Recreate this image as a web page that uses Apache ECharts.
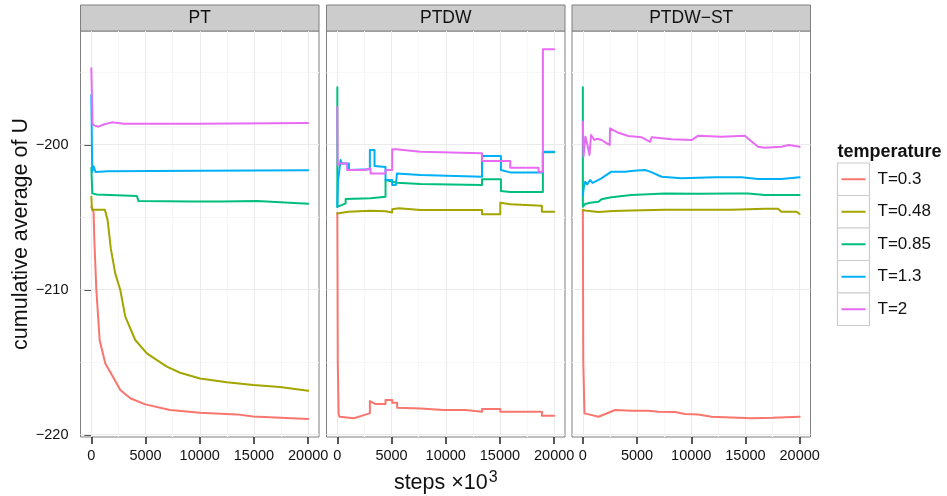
<!DOCTYPE html>
<html>
<head>
<meta charset="utf-8">
<script src="https://cdn.jsdelivr.net/npm/echarts@6/dist/echarts.min.js"></script>
<style>
  html, body { margin: 0; padding: 0; background: #ffffff; }
  #chart { width: 947px; height: 496px; }
</style>
</head>
<body>
<div id="chart"></div>
<script>
// Facets, temperature groups and tick positions
const panelNames = ['PT', 'PTDW', 'PTDW\u2212ST'];
const temperatures = ['T=0.3', 'T=0.48', 'T=0.85', 'T=1.3', 'T=2'];
const xTicks = [0, 5000, 10000, 15000, 20000];
const xMinorTicks = [2500, 7500, 12500, 17500];
const yTicks = [-220, -210, -200];
const yMinorTicks = [-215, -205, -195];

// Cumulative average of U as [step (x10^3), value] pairs
// --- PT ---
const ptT03 = [[0,-204.3],[150,-204.5],[210,-204.7],[276,-206.6],[460,-210.0],[767,-213.5],[1290,-215.1],[1900,-215.9],[2670,-216.93],[3590,-217.5],[4970,-217.92],[7270,-218.31],[10030,-218.5],[13410,-218.61],[14940,-218.75],[20000,-218.93]];
const ptT048 = [[0,-203.6],[60,-204.5],[1250,-204.5],[1500,-205.2],[1800,-207.2],[2210,-208.9],[2670,-210.03],[3130,-211.87],[4050,-213.48],[5120,-214.4],[6960,-215.32],[8190,-215.74],[10030,-216.13],[12490,-216.4],[14940,-216.59],[17390,-216.72],[20000,-216.98]];
const ptT085 = [[0,-201.6],[90,-203.37],[500,-203.45],[4200,-203.55],[4350,-203.9],[9300,-203.93],[9450,-204.0],[12000,-203.93],[15300,-203.9],[15450,-204.0],[20000,-204.08]];
const ptT13 = [[0,-196.6],[80,-201.9],[200,-201.5],[400,-201.9],[1500,-201.85],[10000,-201.8],[20000,-201.78]];
const ptT2 = [[0,-194.74],[100,-198.5],[200,-198.66],[670,-198.77],[1200,-198.6],[1900,-198.47],[3000,-198.57],[10000,-198.57],[20000,-198.52]];

// --- PTDW ---
const ptdwT03 = [[0,-204.7],[40,-215],[120,-218.6],[200,-218.77],[1530,-218.88],[2450,-218.66],[3000,-218.54],[3000,-217.69],[3525,-217.9],[4445,-217.9],[4445,-217.62],[5060,-217.62],[5060,-217.8],[5520,-217.8],[5520,-218.15],[7670,-218.2],[9810,-218.31],[11810,-218.31],[11810,-218.43],[13345,-218.43],[13345,-218.24],[15030,-218.24],[15030,-218.43],[18870,-218.43],[18870,-218.7],[20000,-218.7]];
const ptdwT048 = [[0,-204.75],[150,-204.63],[1000,-204.63],[3065,-204.56],[4445,-204.6],[4600,-204.68],[5060,-204.68],[5060,-204.47],[5670,-204.4],[7670,-204.52],[13345,-204.52],[13345,-204.81],[15030,-204.81],[15030,-204.01],[15950,-204.12],[18870,-204.22],[18870,-204.63],[20000,-204.63]];
const ptdwT085 = [[0,-196.05],[0,-204.3],[150,-204.17],[765,-204.06],[765,-203.76],[3065,-203.71],[4445,-203.6],[4445,-202.45],[5520,-202.63],[7670,-202.72],[13345,-202.79],[13345,-202.4],[15090,-202.4],[15090,-203.21],[15950,-203.28],[18960,-203.28],[18960,-200.54],[20000,-200.54]];
const ptdwT13 = [[0,-204.3],[60,-202.5],[300,-201.07],[400,-201.3],[1070,-201.3],[1070,-201.76],[3000,-201.7],[3000,-200.38],[3430,-200.38],[3430,-201.48],[4445,-201.55],[4445,-202.45],[5060,-202.45],[5060,-202.79],[5400,-202.79],[5500,-201.99],[7670,-202.1],[13345,-202.22],[13345,-200.79],[15090,-200.79],[15090,-201.76],[15950,-201.92],[18960,-201.92],[18960,-200.49],[20000,-200.49]];
const ptdwT2 = [[0,-197.4],[30,-201.41],[300,-201.3],[900,-201.3],[900,-201.76],[2500,-201.76],[2500,-201.65],[3065,-201.65],[3065,-201.99],[4445,-201.99],[4445,-201.76],[5060,-201.76],[5060,-200.33],[5400,-200.33],[5450,-200.2],[5520,-200.4],[7670,-200.5],[13345,-200.6],[13345,-201.14],[15950,-201.14],[15950,-201.6],[18560,-201.6],[18560,-201.87],[18960,-201.87],[18960,-193.43],[20000,-193.43]];

// --- PTDW-ST ---
const ptdwstT03 = [[0,-204.5],[40,-215],[150,-218.54],[830,-218.66],[1440,-218.77],[2360,-218.5],[2970,-218.31],[4510,-218.36],[6040,-218.36],[6960,-218.43],[8500,-218.45],[9420,-218.59],[10640,-218.62],[11870,-218.77],[13710,-218.82],[15550,-218.88],[17500,-218.85],[20000,-218.77]];
const ptdwstT048 = [[0,-204.52],[210,-204.55],[1440,-204.66],[2780,-204.59],[4470,-204.55],[7570,-204.5],[13710,-204.5],[16780,-204.43],[18000,-204.43],[18310,-204.63],[19700,-204.63],[20000,-204.79]];
const ptdwstT085 = [[0,-196.05],[0,-204.29],[210,-204.1],[670,-204.01],[1440,-203.94],[1710,-203.78],[2630,-203.64],[4470,-203.48],[7570,-203.37],[10640,-203.4],[13710,-203.37],[15240,-203.37],[16780,-203.48],[20000,-203.48]];
const ptdwstT13 = [[0,-203.5],[100,-202.9],[210,-202.56],[400,-202.75],[670,-202.45],[900,-202.65],[1130,-202.56],[1710,-202.33],[2630,-201.87],[3890,-201.87],[4700,-201.8],[5730,-201.76],[6200,-201.87],[7270,-202.22],[9110,-202.33],[12180,-202.26],[14630,-202.26],[16160,-202.38],[18310,-202.38],[20000,-202.26]];
const ptdwstT2 = [[0,-198.43],[60,-200.84],[240,-199.46],[460,-200.15],[610,-200.72],[760,-199.34],[1060,-199.69],[1290,-199.6],[1750,-199.69],[2200,-199.92],[2480,-200.03],[2510,-198.88],[3280,-199.19],[4200,-199.41],[5430,-199.5],[6200,-199.81],[6350,-199.5],[8190,-199.64],[10030,-199.69],[10640,-199.39],[12790,-199.46],[14940,-199.39],[15400,-199.69],[16160,-200.15],[16780,-200.22],[18310,-200.15],[19000,-200.03],[20000,-200.15]];

const panelSeries = [
  [ptT03, ptT048, ptT085, ptT13, ptT2],
  [ptdwT03, ptdwT048, ptdwT085, ptdwT13, ptdwT2],
  [ptdwstT03, ptdwstT048, ptdwstT085, ptdwstT13, ptdwstT2]
];

const colors = ['#F8766D', '#A3A500', '#00BF7D', '#00B0F6', '#E76BF3'];
const FONT = '"Liberation Sans", Arial, Helvetica, sans-serif';

// Layout of the three facets
const panelLeft = [80.5, 326.5, 572];
const panelWidth = 238.5;
const panelTop = 31;
const panelHeight = 406;
const stripTop = 5;
const stripHeight = 26;
const X_MIN = -1000, X_MAX = 21000;
const Y_MIN = -220.17, Y_MAX = -192.17;

const grids = [], xAxes = [], yAxes = [], series = [], graphics = [];

panelNames.forEach((name, p) => {
  grids.push({
    left: panelLeft[p], top: panelTop, width: panelWidth, height: panelHeight,
    outerBoundsMode: 'none', containLabel: false,
    show: true, backgroundColor: '#ffffff', borderColor: '#7F7F7F', borderWidth: 1
  });

  const xAxis = {
    gridIndex: p, type: 'value', min: X_MIN, max: X_MAX,
    axisLine: { show: false },
    splitLine: { show: false },
    axisTick: { show: true, customValues: xTicks, length: 7, lineStyle: { color: '#222', width: 1.5 } },
    axisLabel: {
      customValues: xTicks, margin: 11, fontSize: 14.5, color: '#111', fontFamily: FONT,
      formatter: v => String(v)
    }
  };
  if (p === 1) {
    xAxis.name = '{a|steps \u00d710}{b|3}';
    xAxis.nameLocation = 'middle';
    xAxis.nameGap = 33;
    xAxis.nameTextStyle = {
      rich: {
        a: { fontSize: 21.5, color: '#111', fontFamily: FONT, lineHeight: 26 },
        b: { fontSize: 16, color: '#111', fontFamily: FONT, verticalAlign: 'top', lineHeight: 26, padding: [0, 0, 12, 1] }
      }
    };
  }
  xAxes.push(xAxis);

  const yAxis = {
    gridIndex: p, type: 'value', min: Y_MIN, max: Y_MAX,
    axisLine: { show: false },
    splitLine: { show: false },
    axisTick: { show: p === 0, customValues: yTicks, length: 7, lineStyle: { color: '#222', width: 1.5 } },
    axisLabel: {
      show: p === 0, customValues: yTicks, margin: 12, fontSize: 14.5, color: '#111', fontFamily: FONT,
      formatter: v => String(v).replace('-', '\u2212')
    }
  };
  if (p === 0) {
    yAxis.name = 'cumulative average of U';
    yAxis.nameLocation = 'middle';
    yAxis.nameGap = 47;
    yAxis.nameTextStyle = { fontSize: 21.5, color: '#111', fontFamily: FONT };
  }
  yAxes.push(yAxis);

  // background grid: major and minor lines, kept beneath the data lines
  const gridLines = []
    .concat(xMinorTicks.map(v => ({ xAxis: v, lineStyle: { color: '#F7F7F7', width: 1 } })))
    .concat(yMinorTicks.map(v => ({ yAxis: v, lineStyle: { color: '#F7F7F7', width: 1 } })))
    .concat(xTicks.map(v => ({ xAxis: v, lineStyle: { color: '#EBEBEB', width: 1 } })))
    .concat(yTicks.map(v => ({ yAxis: v, lineStyle: { color: '#EBEBEB', width: 1 } })));
  series.push({
    type: 'line', xAxisIndex: p, yAxisIndex: p, data: [], z: 1, silent: true,
    markLine: {
      z: 1,
      silent: true, symbol: ['none', 'none'], animation: false,
      label: { show: false }, emphasis: { disabled: true },
      lineStyle: { type: 'solid' },
      data: gridLines
    }
  });

  panelSeries[p].forEach((values, t) => {
    series.push({
      type: 'line', name: temperatures[t], xAxisIndex: p, yAxisIndex: p,
      data: values, showSymbol: false, symbol: 'none', silent: true, z: 3,
      sampling: null, smooth: false,
      lineStyle: { color: colors[t], width: 2, join: 'round', cap: 'round' },
      itemStyle: { color: colors[t] },
      emphasis: { disabled: true }
    });
  });

  // facet strip
  graphics.push({
    type: 'rect',
    shape: { x: panelLeft[p], y: stripTop, width: panelWidth, height: stripHeight },
    style: { fill: '#CCCCCC', stroke: '#7F7F7F', lineWidth: 1 },
    silent: true
  });
  graphics.push({
    type: 'text',
    x: panelLeft[p] + panelWidth / 2, y: stripTop + stripHeight / 2 + 0.5,
    style: { text: name, fill: '#111', font: '17.5px ' + FONT, textAlign: 'center', textVerticalAlign: 'middle' },
    silent: true
  });
});

// legend
const legendLeft = 837.5, keyTop = 163, keySize = 32.5, keyWidth = 32;
graphics.push({
  type: 'text', x: legendLeft, y: 152,
  style: { text: 'temperature', fill: '#111', font: 'bold 18px ' + FONT, textAlign: 'left', textVerticalAlign: 'middle' },
  silent: true
});
temperatures.forEach((label, t) => {
  const top = keyTop + t * keySize;
  graphics.push({
    type: 'rect', shape: { x: legendLeft, y: top, width: keyWidth, height: keySize },
    style: { fill: '#ffffff', stroke: '#CCCCCC', lineWidth: 1.2 }, silent: true
  });
  graphics.push({
    type: 'line', shape: { x1: legendLeft + 4, y1: top + keySize / 2, x2: legendLeft + keyWidth - 4, y2: top + keySize / 2 },
    style: { stroke: colors[t], lineWidth: 2 }, silent: true
  });
  graphics.push({
    type: 'text', x: legendLeft + keyWidth + 8, y: top + keySize / 2,
    style: { text: label, fill: '#111', font: '17px ' + FONT, textAlign: 'left', textVerticalAlign: 'middle' },
    silent: true
  });
});

const chart = echarts.init(document.getElementById('chart'), null, { renderer: 'canvas' });
chart.setOption({
  animation: false,
  backgroundColor: '#ffffff',
  textStyle: { fontFamily: FONT },
  grid: grids,
  xAxis: xAxes,
  yAxis: yAxes,
  series: series,
  graphic: graphics
});
</script>
</body>
</html>
